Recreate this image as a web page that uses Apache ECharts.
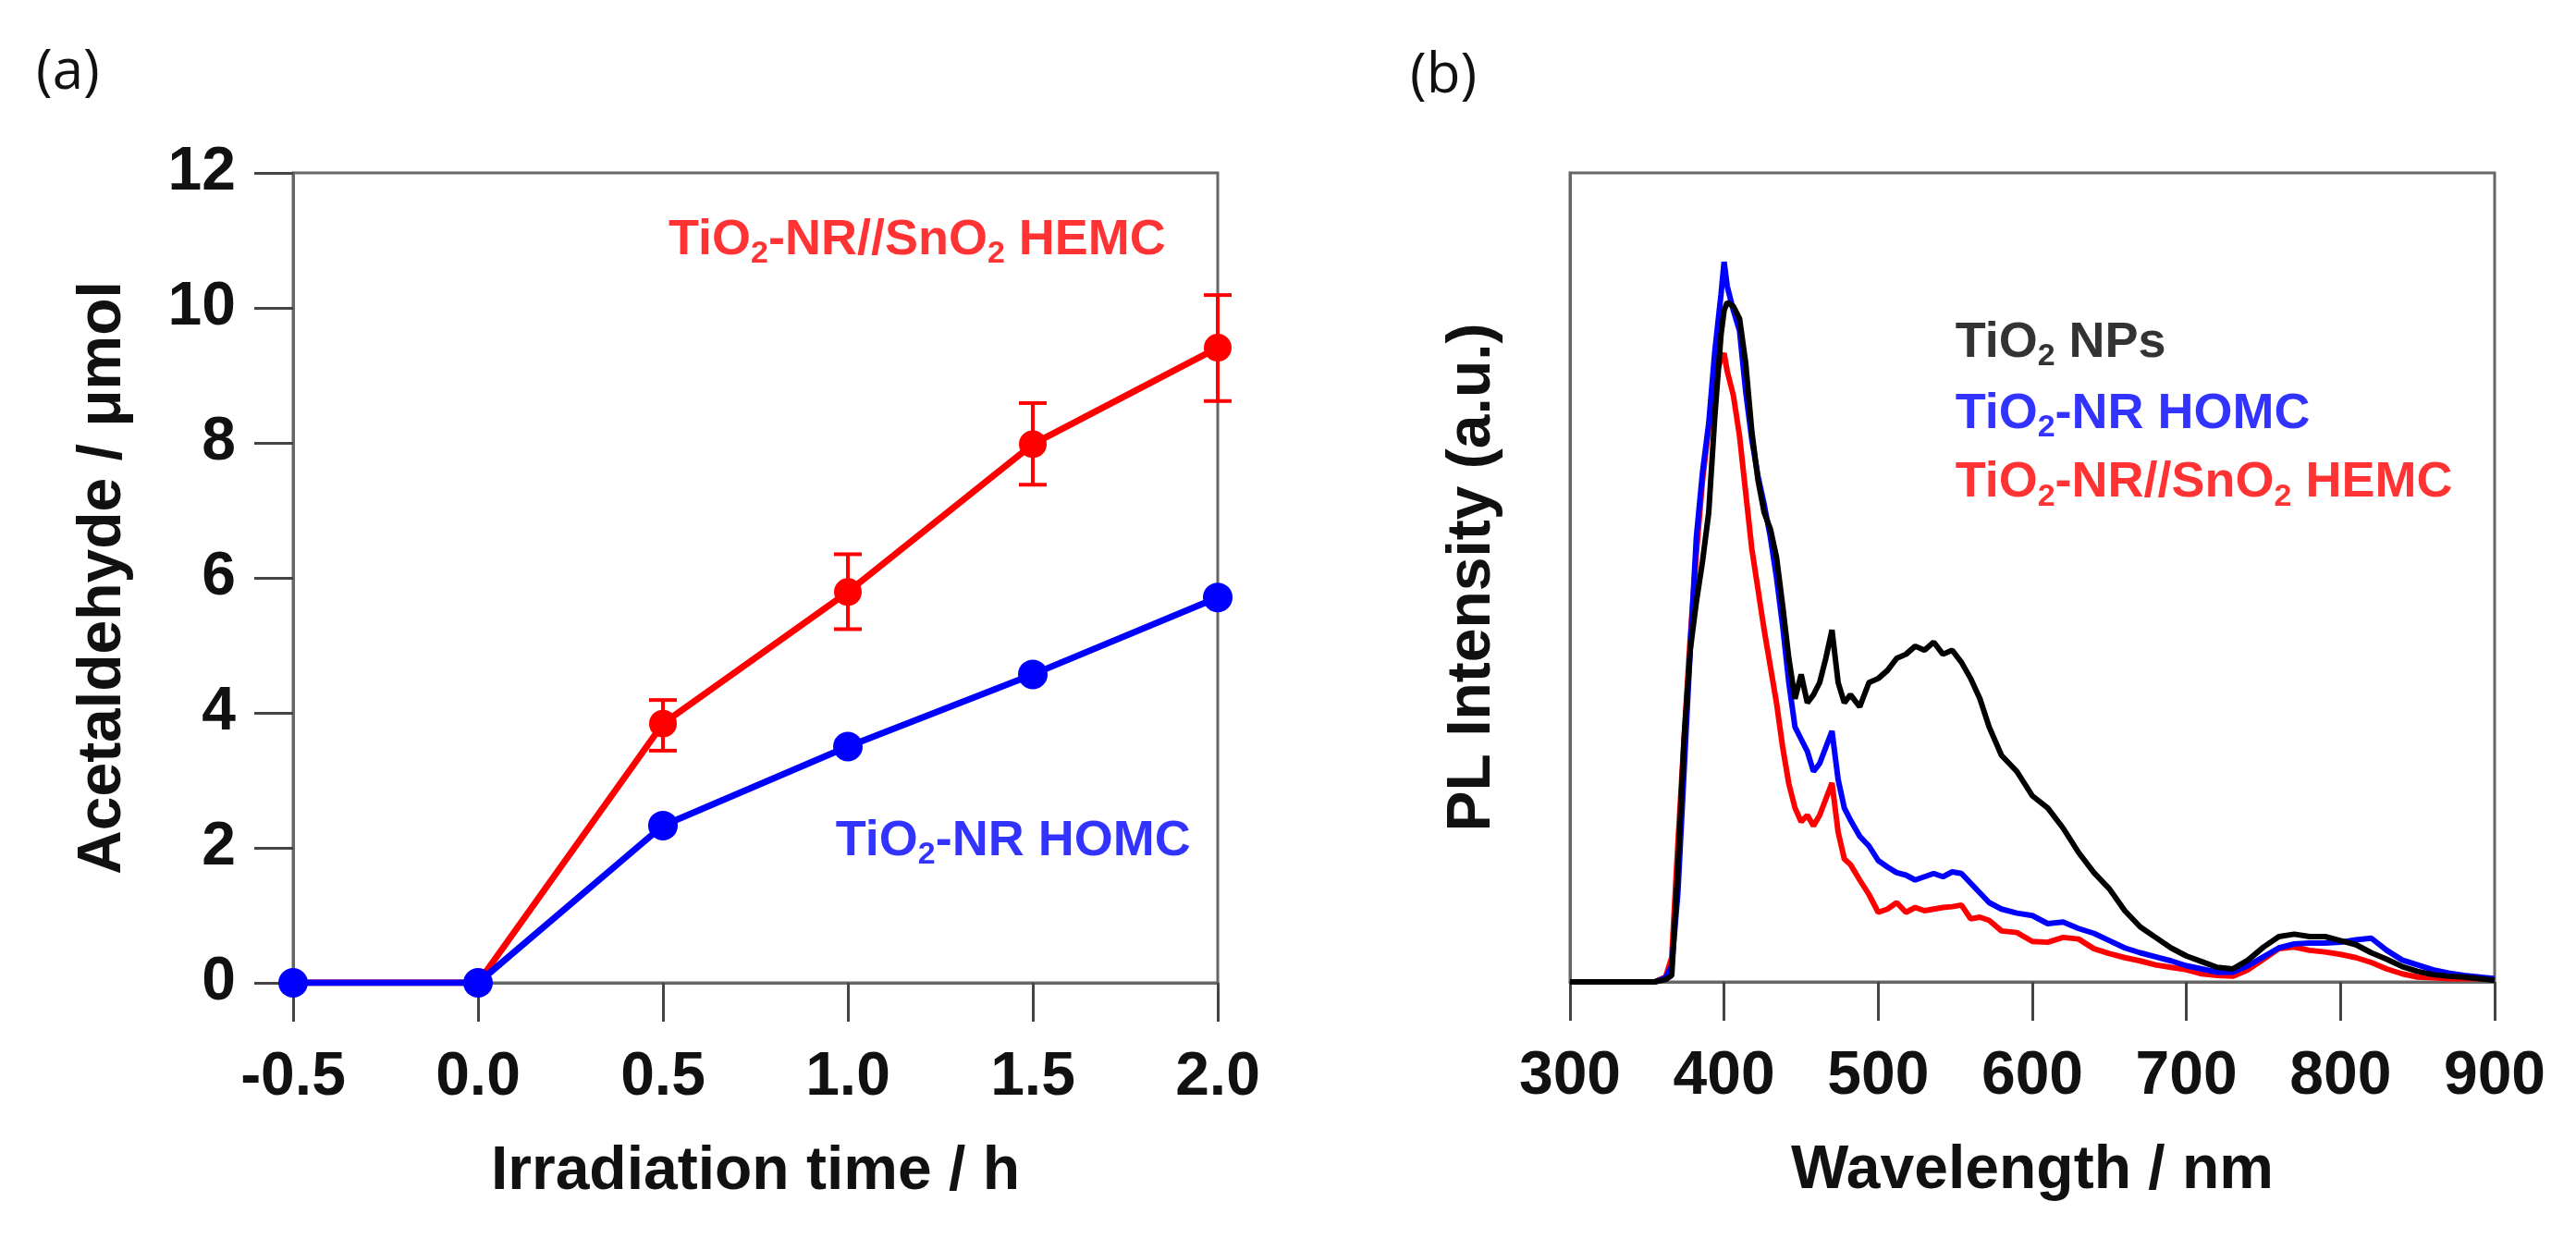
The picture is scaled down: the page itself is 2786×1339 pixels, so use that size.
<!DOCTYPE html>
<html>
<head>
    <meta charset="utf-8">
    <title>Acetaldehyde evolution and PL spectra</title>
    <script src="https://cdn.jsdelivr.net/npm/echarts@6/dist/echarts.min.js"></script>
    <style>
        html, body { margin: 0; padding: 0; background: #fff; }
    </style>
</head>
<body>
    <div id="main" style="width: 2786px;height:1339px;"></div>
    <script type="text/javascript">
        // (a) acetaldehyde vs irradiation time
        var timeH = [-0.5, 0.0, 0.5, 1.0, 1.5, 2.0];
        var hemcVals = [0, 0, 3.84, 5.79, 7.98, 9.41];
        var hemcErrLow = [0, 0, 3.44, 5.24, 7.38, 8.62];
        var hemcErrHigh = [0, 0, 4.19, 6.35, 8.59, 10.19];
        var homcVals = [0, 0, 2.33, 3.50, 4.57, 5.71];
        var timeTicks = ['-0.5', '0.0', '0.5', '1.0', '1.5', '2.0'];

        // (b) PL spectra, intensity in a.u. (frame top = 100)
        var wavelength = [300, 320, 340, 355, 362, 366, 370, 374, 378, 382, 386, 390, 394, 398, 400, 402, 406, 410,
            414, 418, 422, 426, 430, 434, 438, 442, 446, 450, 454, 458, 462, 466, 470, 474, 478, 482, 488, 494,
            500, 506, 512, 518, 524, 530, 536, 542, 548, 554, 560, 566, 572, 580, 590, 600, 610, 620, 630, 640,
            650, 660, 670, 680, 690, 700, 710, 720, 730, 740, 750, 760, 770, 780, 790, 800, 810, 820, 830, 840,
            850, 860, 870, 880, 890, 900];
        var plNPs = [0, 0, 0, 0, 0.3, 0.8, 14, 30, 41, 47, 52, 58, 70, 80, 83, 84, 83.5, 82,
            76.5, 68, 62, 58, 56, 52.5, 46.5, 40, 35, 38, 34.5, 35.5, 37, 40, 43.5, 37, 34.5, 35.5, 34, 37,
            37.5, 38.5, 40, 40.5, 41.5, 41, 42, 40.5, 41, 39.5, 37.5, 35, 31.5, 28, 26, 23, 21.5, 19, 16, 13.5,
            11.5, 8.8, 6.8, 5.5, 4.2, 3.2, 2.5, 1.8, 1.6, 2.7, 4.3, 5.6, 5.9, 5.6, 5.6, 5.1, 4.6, 3.6, 2.8, 1.9,
            1.3, 0.9, 0.7, 0.6, 0.4, 0.2];
        var plHOMC = [0, 0, 0, 0, 0.5, 2, 11, 26, 41, 55, 63, 69, 78, 85, 89, 86, 83, 80.5,
            73, 67, 62.5, 59, 55, 50, 44, 37, 31.5, 30, 28.5, 26, 27, 29, 31, 25, 21.5, 20, 18, 16.8,
            15, 14.2, 13.5, 13.2, 12.6, 13, 13.4, 13, 13.6, 13.4, 12.2, 11, 9.8, 9, 8.5, 8.2, 7.2, 7.4, 6.6, 6,
            5.1, 4.2, 3.6, 3.1, 2.6, 2, 1.6, 1.2, 1.2, 2, 3.1, 4.2, 4.7, 4.8, 4.8, 4.9, 5.2, 5.4, 3.9, 2.7,
            2.1, 1.5, 1.1, 0.8, 0.6, 0.4];
        var plHEMC = [0, 0, 0, 0, 0.6, 3, 17, 30, 42.5, 53, 62, 68.5, 74.5, 77, 77.7, 75.5, 72.5, 67.5,
            60.5, 53.5, 48.5, 43.5, 39, 34.5, 29, 24.5, 21.5, 19.8, 20.6, 19.3, 20.6, 22.6, 24.6, 18.5, 15.2, 14.5, 12.6, 10.8,
            8.6, 9, 9.8, 8.6, 9.2, 8.8, 9, 9.2, 9.3, 9.5, 7.8, 8, 7.6, 6.3, 6.1, 5, 4.9, 5.5, 5.3, 4.1,
            3.5, 3, 2.6, 2.1, 1.8, 1.5, 1, 0.8, 0.7, 1.5, 2.8, 4.1, 4.3, 3.9, 3.7, 3.4, 3, 2.4, 1.6, 1,
            0.6, 0.5, 0.4, 0.4, 0.4, 0.4];
        var wlTicks = ['300', '400', '500', '600', '700', '800', '900'];

        var FONT = '"Liberation Sans", Arial, sans-serif';
        var myChart = echarts.init(document.getElementById('main'));

        function pairs(xs, ys) {
            var out = [];
            for (var i = 0; i < xs.length; i++) {
                out.push([xs[i], ys[i]]);
            }
            return out;
        }

        // rich styles for subscripted labels
        function richFor(color) {
            return {
                t: {color: color, fontSize: 54, fontWeight: 'bold', fontFamily: FONT, lineHeight: 64},
                s: {color: color, fontSize: 34, fontWeight: 'bold', fontFamily: FONT, verticalAlign: 'bottom', lineHeight: 40}
            };
        }
        function labelSeries(xIdx, yIdx, x, y, color, text) {
            return {
                type: 'scatter',
                xAxisIndex: xIdx,
                yAxisIndex: yIdx,
                symbolSize: 0,
                silent: true,
                z: 10,
                data: [[x, y]],
                label: {
                    show: true,
                    position: 'right',
                    distance: 0,
                    formatter: text,
                    rich: richFor(color)
                }
            };
        }

        var errData = [];
        for (var i = 0; i < timeH.length; i++) {
            if (hemcErrHigh[i] > hemcErrLow[i]) {
                errData.push([timeH[i], hemcErrLow[i], hemcErrHigh[i]]);
            }
        }

        var axisLineStyle = {color: '#666', width: 3};
        var tickStyle = {color: '#444', width: 3};
        var labelStyle = {color: '#111', fontSize: 66, fontWeight: 'bold', fontFamily: FONT};
        var nameStyle = {color: '#111', fontSize: 66, fontWeight: 'bold', fontFamily: FONT};

        var option = {
            backgroundColor: '#fff',
            animation: false,
            title: [
                {text: '(a)', left: 34, top: 44, textStyle: {fontSize: 60, fontWeight: 'normal', color: '#111', fontFamily: '"Open Sans", sans-serif'}},
                {text: '(b)', left: 1520, top: 48, textStyle: {fontSize: 60, fontWeight: 'normal', color: '#111', fontFamily: '"Open Sans", sans-serif'}}
            ],
            grid: [
                {left: 317, top: 187, width: 1000, height: 876, show: true, borderColor: '#666', borderWidth: 3},
                {left: 1698, top: 187, width: 1000, height: 875, show: true, borderColor: '#666', borderWidth: 3}
            ],
            xAxis: [
                {
                    type: 'value', gridIndex: 0, min: -0.5, max: 2.0, interval: 0.5,
                    name: 'Irradiation time / h', nameLocation: 'middle', nameGap: 172, nameTextStyle: nameStyle,
                    axisLine: {show: true, onZero: false, lineStyle: axisLineStyle},
                    axisTick: {show: true, length: 42, lineStyle: tickStyle},
                    axisLabel: Object.assign({margin: 70, formatter: function (v) {
                        return timeTicks[Math.round((v + 0.5) / 0.5)];
                    }}, labelStyle),
                    splitLine: {show: false}
                },
                {
                    type: 'value', gridIndex: 1, min: 300, max: 900, interval: 100,
                    name: 'Wavelength / nm', nameLocation: 'middle', nameGap: 172, nameTextStyle: nameStyle,
                    axisLine: {show: true, onZero: false, lineStyle: axisLineStyle},
                    axisTick: {show: true, length: 42, lineStyle: tickStyle},
                    axisLabel: Object.assign({margin: 70, formatter: function (v) {
                        return wlTicks[Math.round((v - 300) / 100)];
                    }}, labelStyle),
                    splitLine: {show: false}
                }
            ],
            yAxis: [
                {
                    type: 'value', gridIndex: 0, min: 0, max: 12, interval: 2,
                    name: 'Acetaldehyde / \u03bcmol', nameLocation: 'middle', nameGap: 172, nameTextStyle: nameStyle,
                    axisLine: {show: true, onZero: false, lineStyle: axisLineStyle},
                    axisTick: {show: true, length: 42, lineStyle: tickStyle},
                    axisLabel: Object.assign({margin: 62}, labelStyle),
                    splitLine: {show: false}
                },
                {
                    type: 'value', gridIndex: 1, min: 0, max: 100,
                    name: 'PL Intensity (a.u.)', nameLocation: 'middle', nameGap: 72, nameTextStyle: nameStyle,
                    axisLine: {show: true, onZero: false, lineStyle: axisLineStyle},
                    axisTick: {show: false},
                    axisLabel: {show: false},
                    splitLine: {show: false}
                }
            ],
            series: [
                {
                    name: 'TiO2-NR//SnO2 HEMC',
                    type: 'line', xAxisIndex: 0, yAxisIndex: 0,
                    data: pairs(timeH, hemcVals),
                    symbol: 'circle', symbolSize: 30,
                    itemStyle: {color: '#ff0000'},
                    lineStyle: {color: '#ff0000', width: 7},
                    z: 3
                },
                {
                    name: 'HEMC error',
                    type: 'custom', xAxisIndex: 0, yAxisIndex: 0,
                    data: errData,
                    z: 3,
                    renderItem: function (params, api) {
                        var lo = api.coord([api.value(0), api.value(1)]);
                        var hi = api.coord([api.value(0), api.value(2)]);
                        var cap = 15;
                        var st = {stroke: '#ff0000', lineWidth: 4};
                        return {
                            type: 'group',
                            children: [
                                {type: 'line', shape: {x1: lo[0], y1: lo[1], x2: hi[0], y2: hi[1]}, style: st},
                                {type: 'line', shape: {x1: lo[0] - cap, y1: lo[1], x2: lo[0] + cap, y2: lo[1]}, style: st},
                                {type: 'line', shape: {x1: hi[0] - cap, y1: hi[1], x2: hi[0] + cap, y2: hi[1]}, style: st}
                            ]
                        };
                    }
                },
                {
                    name: 'TiO2-NR HOMC',
                    type: 'line', xAxisIndex: 0, yAxisIndex: 0,
                    data: pairs(timeH, homcVals),
                    symbol: 'circle', symbolSize: 32,
                    itemStyle: {color: '#0000ff'},
                    lineStyle: {color: '#0000ff', width: 7},
                    z: 4
                },
                labelSeries(0, 0, 0.515, 11.0, '#ff0000', '{t|TiO}{s|2}{t|-NR//SnO}{s|2}{t| HEMC}'),
                labelSeries(0, 0, 0.967, 2.1, '#0000ff', '{t|TiO}{s|2}{t|-NR HOMC}'),

                {
                    name: 'PL HEMC',
                    type: 'line', xAxisIndex: 1, yAxisIndex: 1,
                    data: pairs(wavelength, plHEMC),
                    showSymbol: false,
                    lineStyle: {color: '#ff0000', width: 6},
                    z: 2
                },
                {
                    name: 'PL HOMC',
                    type: 'line', xAxisIndex: 1, yAxisIndex: 1,
                    data: pairs(wavelength, plHOMC),
                    showSymbol: false,
                    lineStyle: {color: '#0000ff', width: 6},
                    z: 3
                },
                {
                    name: 'PL NPs',
                    type: 'line', xAxisIndex: 1, yAxisIndex: 1,
                    data: pairs(wavelength, plNPs),
                    showSymbol: false,
                    lineStyle: {color: '#000000', width: 6},
                    z: 4
                },
                labelSeries(1, 1, 550, 79.0, '#000000', '{t|TiO}{s|2}{t| NPs}'),
                labelSeries(1, 1, 550, 70.2, '#0000ff', '{t|TiO}{s|2}{t|-NR HOMC}'),
                labelSeries(1, 1, 550, 61.7, '#ff0000', '{t|TiO}{s|2}{t|-NR//SnO}{s|2}{t| HEMC}')
            ]
        };

        myChart.setOption(option);
    </script>
</body>
</html>
